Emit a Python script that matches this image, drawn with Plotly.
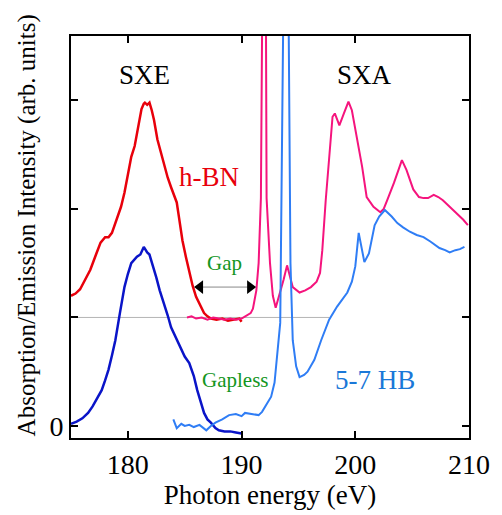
import plotly.graph_objects as go

# h-BN soft x-ray emission (red)
hbn_sxe_x = [175.0, 175.4, 175.8, 176.2, 176.7, 177.2, 177.6, 178.0, 178.3, 178.6, 179.1, 179.4, 179.7,
             180.0, 180.3, 180.6, 180.8, 181.0, 181.2, 181.4, 181.5, 181.7, 181.9, 182.1, 182.3,
             182.6, 182.9, 183.2, 183.5, 183.8, 184.3, 184.5, 184.8, 185.1, 185.4, 185.7,
             186.0, 186.4, 186.7, 187.0, 187.3, 187.8, 188.3, 188.8, 189.3, 189.8, 190.0]
hbn_sxe_y = [1.20, 1.22, 1.26, 1.34, 1.44, 1.58, 1.69, 1.74, 1.74, 1.78, 1.93, 2.02, 2.15,
             2.30, 2.48, 2.58, 2.70, 2.80, 2.92, 2.97, 2.98, 2.96, 2.98, 2.91, 2.82,
             2.64, 2.52, 2.39, 2.29, 2.20, 2.06, 1.92, 1.71, 1.56, 1.41, 1.29,
             1.19, 1.10, 1.04, 1.01, 0.99, 0.98, 0.99, 0.97, 0.98, 0.99, 0.96]

# 5-7 HB soft x-ray emission (dark blue)
hb_sxe_x = [175.0, 175.5, 176.0, 176.5, 176.9, 177.3, 177.7, 178.0, 178.3, 178.6, 178.9, 179.3, 179.7,
            180.0, 180.3, 180.8, 181.1, 181.4, 181.7, 181.9, 182.2, 182.5, 182.8, 183.2, 183.5,
            183.8, 184.3, 184.7, 185.0, 185.4, 185.8, 186.1, 186.4, 186.7, 187.0,
            187.3, 187.7, 188.0, 188.5, 189.0, 189.5, 190.0]
hb_sxe_y = [0.02, 0.04, 0.07, 0.12, 0.18, 0.25, 0.33, 0.42, 0.52, 0.65, 0.79, 1.04, 1.28,
            1.40, 1.50, 1.56, 1.58, 1.65, 1.60, 1.58, 1.48, 1.37, 1.25, 1.13, 1.02,
            0.91, 0.80, 0.70, 0.64, 0.58, 0.46, 0.33, 0.22, 0.12, 0.06,
            0.03, -0.02, -0.04, -0.05, -0.05, -0.06, -0.07]

# h-BN soft x-ray absorption (pink)
hbn_sxa_x = [185.2, 185.6, 186.0, 186.5, 187.0, 187.5, 188.0, 188.5, 189.0, 189.5, 190.0, 190.5, 190.8,
             191.0, 191.3, 191.5, 191.7, 191.8, 192.0, 192.15, 192.2, 192.5, 192.75, 193.0, 193.4,
             193.7, 194.0, 194.2, 194.5, 195.1, 195.6, 196.1, 196.6, 196.9, 197.1, 197.4, 197.7,
             198.0, 198.2, 198.6, 199.0, 199.4, 199.7, 200.2, 200.6, 201.0, 201.6, 202.2, 202.5,
             202.8, 203.4, 204.1, 204.5, 205.1, 205.6, 206.0, 206.4, 206.9, 207.3, 207.7, 208.2,
             208.6, 209.1, 209.5, 209.9]
hbn_sxa_y = [1.00, 1.01, 0.99, 1.00, 0.98, 1.00, 0.99, 0.98, 0.99, 0.98, 0.99, 1.02, 1.04,
             1.08, 1.25, 1.50, 2.10, 3.60, 5.20, 3.60, 2.10, 1.50, 1.20, 1.09, 1.23,
             1.35, 1.48, 1.40, 1.28, 1.23, 1.25, 1.28, 1.33, 1.41, 1.62, 2.08, 2.48,
             2.85, 2.88, 2.77, 2.88, 2.99, 2.91, 2.64, 2.39, 2.11, 2.02, 1.97, 2.00,
             2.08, 2.24, 2.45, 2.36, 2.18, 2.11, 2.10, 2.10, 2.13, 2.11, 2.08, 2.03,
             1.99, 1.94, 1.90, 1.85]

# 5-7 HB soft x-ray absorption (light blue)
hb_sxa_x = [184.0, 184.3, 184.7, 185.0, 185.4, 185.8, 186.3, 186.9, 187.3, 187.7, 188.3, 188.9,
            189.5, 190.0, 190.3, 190.9, 191.5, 191.8, 192.1, 192.6, 192.9, 193.2, 193.4, 193.65,
            193.9, 194.15, 194.3, 194.5, 194.8, 195.1, 195.5, 195.8, 196.4, 197.0, 197.7, 198.4,
            198.9, 199.3, 199.7, 200.0, 200.3, 200.6, 200.8, 201.2, 201.7, 202.1, 202.6, 203.2,
            203.7, 204.2, 204.8, 205.4, 206.0, 206.6, 207.0, 207.4, 207.9, 208.3, 208.8, 209.2, 209.6]
hb_sxa_y = [0.06, -0.02, 0.02, 0.00, 0.01, -0.01, 0.01, -0.04, 0.00, 0.03, 0.06, 0.10,
            0.11, 0.09, 0.12, 0.11, 0.10, 0.13, 0.18, 0.27, 0.40, 0.70, 0.95, 3.60,
            6.00, 3.60, 1.50, 0.79, 0.55, 0.45, 0.47, 0.50, 0.61, 0.79, 0.98, 1.10,
            1.17, 1.23, 1.33, 1.47, 1.78, 1.60, 1.51, 1.59, 1.85, 1.93, 1.99, 1.93,
            1.87, 1.83, 1.79, 1.76, 1.74, 1.70, 1.67, 1.64, 1.62, 1.60, 1.62, 1.63, 1.65]

baseline_x = [175.0, 197.7]
baseline_y = [1.0, 1.0]

gap_arrow_x = [186.35, 190.75]
gap_arrow_y = [1.28, 1.28]

x_tick_vals = [180, 190, 200, 210]
y_tick_vals = [0, 1, 2, 3]
y_tick_text = ["0", "", "", ""]

RED = "#e8000b"
DBLUE = "#0a14c8"
PINK = "#f5147d"
LBLUE = "#2f7df5"
GREEN = "#13961e"
FONT = "Liberation Serif, Times New Roman, Times, serif"

fig = go.Figure()
fig.add_trace(go.Scatter(x=baseline_x, y=baseline_y, mode="lines",
                         line=dict(color="#b4b4b4", width=1), hoverinfo="skip"))
fig.add_trace(go.Scatter(x=hbn_sxe_x, y=hbn_sxe_y, mode="lines",
                         line=dict(color=RED, width=2.5)))
fig.add_trace(go.Scatter(x=hb_sxe_x, y=hb_sxe_y, mode="lines",
                         line=dict(color=DBLUE, width=2.5)))
fig.add_trace(go.Scatter(x=hbn_sxa_x, y=hbn_sxa_y, mode="lines",
                         line=dict(color=PINK, width=2)))
fig.add_trace(go.Scatter(x=hb_sxa_x, y=hb_sxa_y, mode="lines",
                         line=dict(color=LBLUE, width=2)))
fig.add_trace(go.Scatter(x=gap_arrow_x, y=gap_arrow_y, mode="lines+markers",
                         line=dict(color="#888888", width=1),
                         marker=dict(symbol=["triangle-left", "triangle-right"], size=12,
                                     color="black")))

def label(x, y, text, color, size):
    fig.add_annotation(x=x, y=y, text=text, showarrow=False, xref="x", yref="y",
                       font=dict(family=FONT, size=size, color=color))

label(181.48, 3.23, "SXE", "black", 27)
label(200.78, 3.235, "SXA", "black", 27)
label(187.13, 2.29, "h-BN", RED, 27)
label(188.48, 1.50, "Gap", GREEN, 21)
label(189.48, 0.42, "Gapless", GREEN, 21)
label(201.7, 0.42, "5-7 HB", "#1a78d8", 27)

# y-axis title placed as rotated text
fig.add_annotation(x=(27 - 71) / 402, y=0.53, xref="paper", yref="paper",
                   xanchor="center", yanchor="middle",
                   text="Absorption/Emission Intensity (arb. units)", showarrow=False,
                   textangle=-90, font=dict(family=FONT, size=25, color="black"))

fig.update_layout(
    width=502, height=515,
    margin=dict(l=71, r=29, t=36, b=77),
    paper_bgcolor="white", plot_bgcolor="white",
    showlegend=False,
    font=dict(family=FONT, size=24, color="black"),
)
fig.update_xaxes(range=[175, 210], tickvals=x_tick_vals, ticks="inside", ticklen=7,
                 tickwidth=1.5, tickcolor="black", mirror="ticks", showline=True,
                 linecolor="black", linewidth=2, showgrid=False, zeroline=False,
                 title=dict(text="Photon energy (eV)", font=dict(family=FONT, size=27), standoff=4),
                 tickfont=dict(family=FONT, size=28))
fig.update_yaxes(range=[-0.111, 3.594], tickvals=y_tick_vals, ticktext=y_tick_text,
                 ticks="inside", ticklen=7, tickwidth=1.5, tickcolor="black", mirror="ticks",
                 showline=True, linecolor="black", linewidth=2, showgrid=False, zeroline=False,
                 tickfont=dict(family=FONT, size=28))

fig.write_html("out.html")
